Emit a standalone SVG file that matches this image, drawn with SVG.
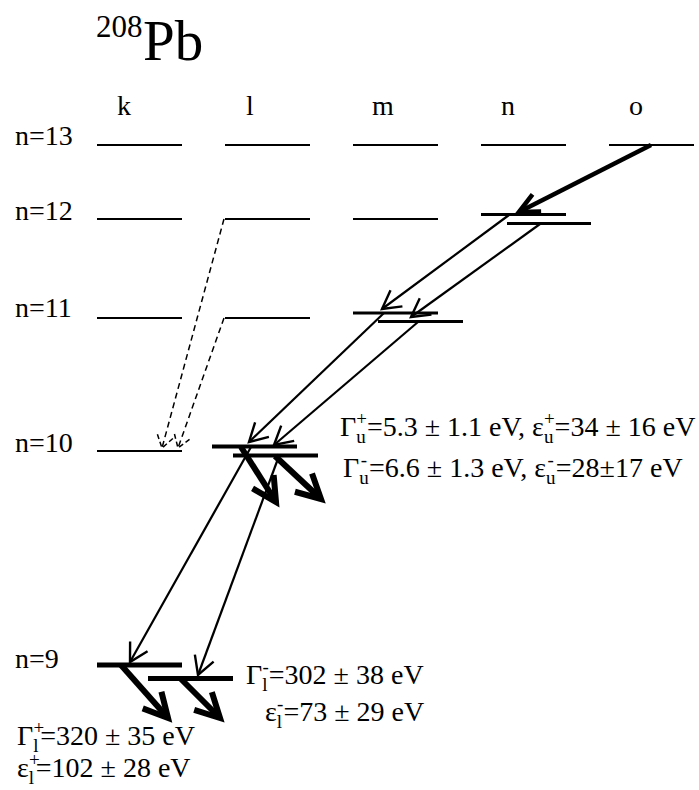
<svg xmlns="http://www.w3.org/2000/svg" width="699" height="790" viewBox="0 0 699 790">
<style>
text{font-family:"Liberation Serif","Times New Roman",serif;fill:#000}
.lbl{font-size:28px}
.col{font-size:28px;text-anchor:middle}
.sub{font-size:19px}
.lv{stroke:#000;stroke-width:2;fill:none}
.lvt{stroke:#000;stroke-width:3;fill:none}
.lvk{stroke:#000;stroke-width:4;fill:none}
.lvh{stroke:#000;stroke-width:5;fill:none}
.th{stroke:#000;stroke-width:2.2;fill:none}
.tk{stroke:#000;stroke-width:4.5;fill:none}
.hv{stroke:#000;stroke-width:6;fill:none}
.da{stroke:#000;stroke-width:1.5;fill:none;stroke-dasharray:6 4}
</style>
<defs>
<marker id="ahThin" markerUnits="userSpaceOnUse" viewBox="-30 -15 32 30" markerWidth="32" markerHeight="30" refX="0" refY="0" orient="auto" overflow="visible">
<path d="M-18,-10 L0,0 L-18,10" fill="none" stroke="#000" stroke-width="2.4"/>
</marker>
<marker id="ahTop" markerUnits="userSpaceOnUse" viewBox="-30 -15 32 30" markerWidth="32" markerHeight="30" refX="0" refY="0" orient="auto" overflow="visible">
<path d="M-20,-9.5 L0,0 L-20,9.5" fill="none" stroke="#000" stroke-width="4.5"/>
</marker>
<marker id="ahHeavy" markerUnits="userSpaceOnUse" viewBox="-30 -15 32 30" markerWidth="32" markerHeight="30" refX="0" refY="0" orient="auto" overflow="visible">
<path d="M-24,-12.5 L0,0 L-24,12.5" fill="none" stroke="#000" stroke-width="6"/>
</marker>
<marker id="ahDash" markerUnits="userSpaceOnUse" viewBox="-20 -10 22 20" markerWidth="22" markerHeight="20" refX="0" refY="0" orient="auto" overflow="visible">
<path d="M-12,-8 L0,0 L-12,8" fill="none" stroke="#000" stroke-width="1.5" stroke-dasharray="5 3"/>
</marker>
</defs>

<g id="title">
<text x="96" y="37" style="font-size:31px">208</text>
<text x="143" y="60" style="font-size:57px">Pb</text>
</g>

<g id="columns">
<text class="col" x="124" y="115">k</text>
<text class="col" x="250" y="115">l</text>
<text class="col" x="383" y="115">m</text>
<text class="col" x="508" y="115">n</text>
<text class="col" x="636" y="115">o</text>
</g>

<g id="n13">
<text class="lbl" x="15" y="145">n=13</text>
<line class="lv" x1="97" y1="145" x2="182" y2="145"/>
<line class="lv" x1="225" y1="145" x2="310" y2="145"/>
<line class="lv" x1="353" y1="145" x2="438" y2="145"/>
<line class="lv" x1="481" y1="145" x2="566" y2="145"/>
<line class="lv" x1="609" y1="145" x2="694" y2="145"/>
</g>

<g id="n12">
<text class="lbl" x="15" y="220">n=12</text>
<line class="lv" x1="97" y1="219" x2="182" y2="219"/>
<line class="lv" x1="225" y1="219" x2="310" y2="219"/>
<line class="lv" x1="353" y1="219" x2="438" y2="219"/>
<line class="lvt" x1="481" y1="214.5" x2="566" y2="214.5"/>
<line class="lvt" x1="507" y1="223.5" x2="591" y2="223.5"/>
</g>

<g id="n11">
<text class="lbl" x="15" y="317">n=11</text>
<line class="lv" x1="97" y1="318" x2="182" y2="318"/>
<line class="lv" x1="225" y1="318" x2="310" y2="318"/>
<line class="lvt" x1="353" y1="313" x2="438" y2="313"/>
<line class="lvt" x1="378" y1="321.5" x2="463" y2="321.5"/>
</g>

<g id="n10">
<text class="lbl" x="15" y="452">n=10</text>
<line class="lv" x1="97" y1="451" x2="182" y2="451"/>
<line class="lvk" x1="212" y1="446.5" x2="297" y2="446.5"/>
<line class="lvk" x1="233" y1="455.5" x2="318" y2="455.5"/>
</g>

<g id="n9">
<text class="lbl" x="15" y="668">n=9</text>
<line class="lvh" x1="97" y1="665" x2="182" y2="665"/>
<line class="lvh" x1="148" y1="678.5" x2="233" y2="678.5"/>
</g>

<g id="connectors">
<line class="tk" x1="651" y1="145" x2="519" y2="212" marker-end="url(#ahTop)"/>
<line class="th" x1="509" y1="215" x2="382" y2="309" marker-end="url(#ahThin)"/>
<line class="th" x1="540" y1="224" x2="411" y2="317" marker-end="url(#ahThin)"/>
<line class="th" x1="384" y1="313" x2="249" y2="442" marker-end="url(#ahThin)"/>
<line class="th" x1="418" y1="322" x2="274" y2="445" marker-end="url(#ahThin)"/>
<line class="th" x1="251" y1="447" x2="130" y2="662" marker-end="url(#ahThin)"/>
<line class="th" x1="279" y1="456" x2="198" y2="675" marker-end="url(#ahThin)"/>
<line class="hv" x1="241" y1="447" x2="276" y2="502" marker-end="url(#ahHeavy)"/>
<line class="hv" x1="275" y1="456" x2="321" y2="499" marker-end="url(#ahHeavy)"/>
<line class="hv" x1="121" y1="665" x2="168" y2="718" marker-end="url(#ahHeavy)"/>
<line class="hv" x1="180" y1="678" x2="220" y2="718" marker-end="url(#ahHeavy)"/>
<line class="da" x1="224" y1="219" x2="162" y2="448" marker-end="url(#ahDash)"/>
<line class="da" x1="224" y1="318" x2="178" y2="448" marker-end="url(#ahDash)"/>
</g>

<g id="labels">
<text class="lbl" x="340" y="436">Γ<tspan class="sub" dy="7">u</tspan><tspan class="sub" dx="-9.5" dy="-18">+</tspan><tspan dy="11">=5.3 ± 1.1 eV, ε</tspan><tspan class="sub" dy="7">u</tspan><tspan class="sub" dx="-9.5" dy="-18">+</tspan><tspan dy="11">=34 ± 16 eV</tspan></text>
<text class="lbl" x="343" y="477">Γ<tspan class="sub" dy="7">u</tspan><tspan class="sub" dx="-8" dy="-18">-</tspan><tspan dy="11" dx="2">=6.6 ± 1.3 eV, ε</tspan><tspan class="sub" dy="7">u</tspan><tspan class="sub" dx="-8" dy="-18">-</tspan><tspan dy="11" dx="2">=28±17 eV</tspan></text>
<text class="lbl" x="246" y="684">Γ<tspan class="sub" dy="7">l</tspan><tspan class="sub" dx="-5" dy="-18">-</tspan><tspan dy="11">=302 ± 38 eV</tspan></text>
<text class="lbl" x="265" y="721">ε<tspan class="sub" dy="7">l</tspan><tspan class="sub" dx="-5" dy="-18">-</tspan><tspan dy="11">=73 ± 29 eV</tspan></text>
<text class="lbl" x="17" y="745">Γ<tspan class="sub" dy="7">l</tspan><tspan class="sub" dx="-5" dy="-18">+</tspan><tspan dy="11" dx="-4">=320 ± 35 eV</tspan></text>
<text class="lbl" x="17" y="777">ε<tspan class="sub" dy="7">l</tspan><tspan class="sub" dx="-5" dy="-18">+</tspan><tspan dy="11" dx="-4">=102 ± 28 eV</tspan></text>
</g>
</svg>
